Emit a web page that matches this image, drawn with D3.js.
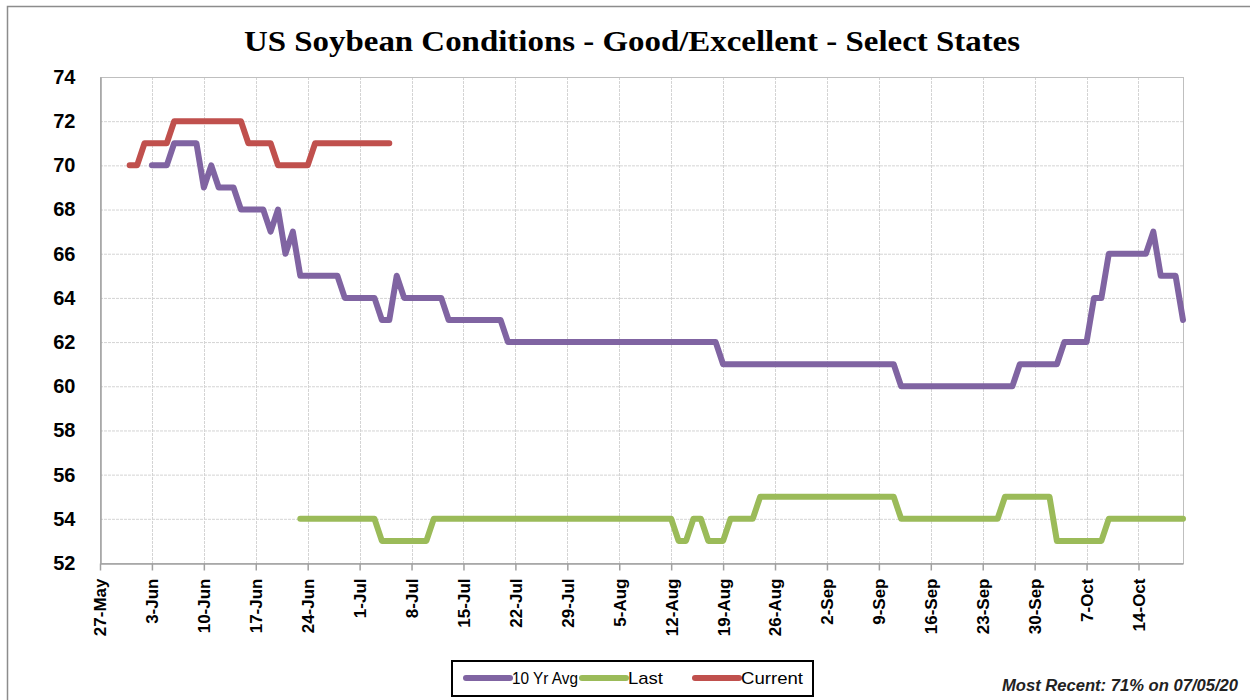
<!DOCTYPE html>
<html lang="en">
<head>
  <meta charset="utf-8">
  <title>US Soybean Conditions</title>
  <script src="https://d3js.org/d3.v7.min.js"></script>
  <style>
    body { margin: 0; background: #fff; }
  </style>
</head>
<body>
  <svg width="1250" height="700"></svg>
  <script>
    // values (2020 season)
    const avgDates = ["06-03","06-05","06-06","06-09","06-10","06-11","06-12","06-14","06-15","06-18","06-19","06-20","06-21","06-22","06-23","06-28","06-29","07-03","07-04","07-05","07-06","07-07","07-12","07-13","07-20","07-21","08-18","08-19","09-11","09-12","09-27","09-28","10-03","10-04","10-07","10-08","10-09","10-10","10-15","10-16","10-17","10-19","10-20"];
    const avgValues = [70,70,71,71,69,70,69,69,68,68,67,68,66,67,65,65,64,64,63,63,65,64,64,63,63,62,62,61,61,60,60,61,61,62,62,64,64,66,66,67,65,65,63];

    const lastDates = ["06-23","07-03","07-04","07-10","07-11","08-12","08-13","08-14","08-15","08-16","08-17","08-19","08-20","08-23","08-24","09-11","09-12","09-25","09-26","10-02","10-03","10-09","10-10","10-20"];
    const lastValues = [54,54,53,53,54,54,53,53,54,54,53,53,54,54,55,55,54,54,55,55,53,53,54,54];

    const currentDates = ["05-31","06-01","06-02","06-05","06-06","06-15","06-16","06-19","06-20","06-24","06-25","07-05"];
    const currentValues = [70,70,71,71,72,72,71,71,70,70,71,71];

    const seriesNames = ["10 Yr Avg", "Last", "Current"];
    const seriesColors = ["#8064a2", "#9bbb59", "#c0504d"];
    const yTicks = [52,54,56,58,60,62,64,66,68,70,72,74];

    const parse = d3.timeParse("%Y-%m-%d");
    const toPoints = (dates, vals) => dates.map((d, i) => ({ date: parse("2020-" + d), value: vals[i] }));
    const series = [
      toPoints(avgDates, avgValues),
      toPoints(lastDates, lastValues),
      toPoints(currentDates, currentValues)
    ];

    const svg = d3.select("svg");
    const plotLeft = 100, plotRight = 1183, plotTop = 77, plotBottom = 563;
    const sans = "Liberation Sans Narrow, Liberation Sans, Arial, sans-serif";

    const x = d3.scaleTime()
      .domain([parse("2020-05-27"), parse("2020-10-20")])
      .range([plotLeft, plotRight]);
    const y = d3.scaleLinear().domain([52, 74]).range([plotBottom, plotTop]);

    // outer chart border
    svg.append("path")
      .attr("d", "M7.5,700 V6.5 H1250")
      .attr("fill", "none")
      .attr("stroke", "#8c8c8c")
      .attr("stroke-width", 1.5);

    svg.append("text")
      .attr("x", 632).attr("y", 51)
      .attr("text-anchor", "middle")
      .attr("font-family", "Liberation Serif, serif")
      .attr("font-weight", "bold")
      .attr("font-size", 29)
      .attr("textLength", 776)
      .attr("lengthAdjust", "spacingAndGlyphs")
      .text("US Soybean Conditions - Good/Excellent - Select States");

    const weekTicks = d3.timeDay.range(x.domain()[0], x.domain()[1], 1).filter((d, i) => i % 7 === 0);

    // grid
    svg.append("g").selectAll("line").data(yTicks).join("line")
      .attr("x1", plotLeft).attr("x2", plotRight)
      .attr("y1", d => y(d) + 0.5).attr("y2", d => y(d) + 0.5)
      .attr("stroke", "#d4d4d4").attr("stroke-dasharray", "3,1");
    svg.append("g").selectAll("line").data(weekTicks).join("line")
      .attr("x1", d => Math.round(x(d)) + 0.5).attr("x2", d => Math.round(x(d)) + 0.5)
      .attr("y1", plotTop).attr("y2", plotBottom)
      .attr("stroke", "#d4d4d4").attr("stroke-dasharray", "3,1");

    svg.append("rect")
      .attr("x", plotLeft + 0.5).attr("y", plotTop + 0.5)
      .attr("width", plotRight - plotLeft).attr("height", plotBottom - plotTop)
      .attr("fill", "none").attr("stroke", "#bfbfbf");

    // x axis
    const xAxis = svg.append("g")
      .attr("transform", `translate(0,${plotBottom + 0.5})`)
      .call(d3.axisBottom(x).tickValues(weekTicks).tickFormat(d3.timeFormat("%-d-%b")).tickSize(7).tickSizeOuter(0));
    xAxis.select(".domain").attr("stroke", "#a0a0a0").attr("stroke-width", 1.5);
    xAxis.selectAll(".tick line").attr("stroke", "#a0a0a0").attr("stroke-width", 1.5);
    xAxis.selectAll(".tick text")
      .attr("font-family", "Liberation Sans, Arial, sans-serif")
      .attr("font-weight", "bold")
      .attr("font-size", 17)
      .attr("fill", "#000")
      .attr("text-anchor", "end")
      .attr("transform", "rotate(-90)")
      .attr("x", -15).attr("y", 0).attr("dy", "0.35em");

    // y axis labels
    const yAxis = svg.append("g")
      .attr("transform", `translate(${plotLeft + 0.5},0)`)
      .call(d3.axisLeft(y).tickValues(yTicks).tickSize(0).tickPadding(25));
    yAxis.select(".domain").attr("stroke", "#a0a0a0").attr("stroke-width", 1.5);
    yAxis.selectAll(".tick text")
      .attr("font-family", "Liberation Sans, Arial, sans-serif")
      .attr("font-weight", "bold")
      .attr("font-size", 20)
      .attr("fill", "#000");

    // lines
    const line = d3.line().x(d => x(d.date)).y(d => y(d.value));
    svg.append("g").selectAll("path").data(series).join("path")
      .attr("d", line)
      .attr("fill", "none")
      .attr("stroke", (d, i) => seriesColors[i])
      .attr("stroke-width", 6)
      .attr("stroke-linecap", "round")
      .attr("stroke-linejoin", "round");

    // legend
    const legend = svg.append("g");
    legend.append("rect")
      .attr("x", 452).attr("y", 661).attr("width", 361).attr("height", 35)
      .attr("fill", "#fff").attr("stroke", "#000").attr("stroke-width", 2);
    const legendX = [466, 582, 695];
    const legendTextW = [66, 35, 62];
    seriesNames.forEach((name, i) => {
      legend.append("line")
        .attr("x1", legendX[i]).attr("x2", legendX[i] + 44)
        .attr("y1", 678).attr("y2", 678)
        .attr("stroke", seriesColors[i]).attr("stroke-width", 6).attr("stroke-linecap", "round");
      legend.append("text")
        .attr("x", legendX[i] + 46).attr("y", 684)
        .attr("font-family", sans)
        .attr("font-size", 17)
        .attr("textLength", legendTextW[i])
        .attr("lengthAdjust", "spacingAndGlyphs")
        .text(name);
    });

    svg.append("text")
      .attr("x", 1238).attr("y", 691)
      .attr("text-anchor", "end")
      .attr("font-family", sans)
      .attr("font-style", "italic")
      .attr("font-weight", "bold")
      .attr("font-size", 16)
      .attr("fill", "#222")
      .attr("textLength", 236)
      .attr("lengthAdjust", "spacingAndGlyphs")
      .text("Most Recent: 71% on 07/05/20");
  </script>
</body>
</html>
